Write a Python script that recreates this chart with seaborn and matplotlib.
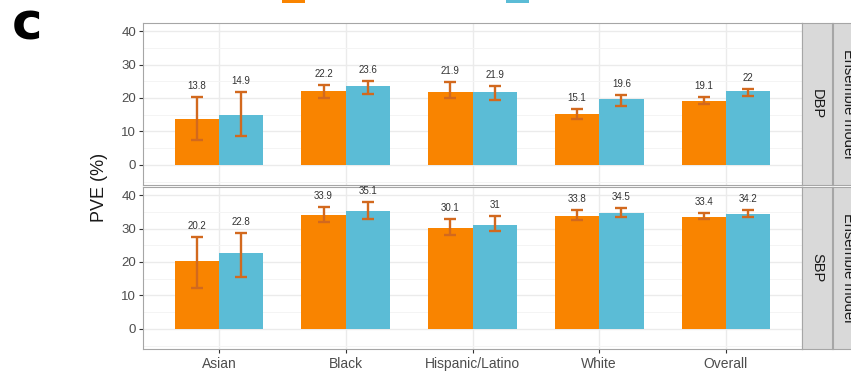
import matplotlib
matplotlib.use("Agg")
import matplotlib.pyplot as plt
import seaborn as sns
import pandas as pd
from matplotlib.patches import Patch

# ---- data -------------------------------------------------------------
groups = ["Asian", "Black", "Hispanic/Latino", "White", "Overall"]
models = ["Ancestry-specific", "Multi-ancestry"]
traits = ["DBP", "SBP"]

dbp_single = [13.8, 22.2, 21.9, 15.1, 19.1]
dbp_single_lo = [7.3, 20.0, 20.1, 13.8, 18.1]
dbp_single_hi = [20.2, 23.9, 24.8, 16.6, 20.4]
dbp_multi = [14.9, 23.6, 21.9, 19.6, 22.0]
dbp_multi_lo = [8.5, 21.1, 19.4, 17.7, 20.7]
dbp_multi_hi = [21.7, 25.1, 23.7, 21.0, 22.8]

sbp_single = [20.2, 33.9, 30.1, 33.8, 33.4]
sbp_single_lo = [12.1, 31.8, 28.1, 32.4, 32.7]
sbp_single_hi = [27.4, 36.5, 32.9, 35.5, 34.7]
sbp_multi = [22.8, 35.1, 31.0, 34.5, 34.2]
sbp_multi_lo = [15.4, 32.9, 29.3, 33.5, 33.5]
sbp_multi_hi = [28.6, 37.8, 33.7, 36.2, 35.4]

series = {
    ("DBP", models[0]): (dbp_single, dbp_single_lo, dbp_single_hi),
    ("DBP", models[1]): (dbp_multi, dbp_multi_lo, dbp_multi_hi),
    ("SBP", models[0]): (sbp_single, sbp_single_lo, sbp_single_hi),
    ("SBP", models[1]): (sbp_multi, sbp_multi_lo, sbp_multi_hi),
}

rows = []
for (trait, model), (vals, los, his) in series.items():
    for g, v, lo, hi in zip(groups, vals, los, his):
        rows.append(dict(trait=trait, group=g, model=model, pve=v, lo=lo, hi=hi))
df = pd.DataFrame(rows)

palette = {models[0]: "#F98400", models[1]: "#5BBCD6"}
err_color = "#D2691E"
border = "#A6A6A6"

# ---- style ------------------------------------------------------------
sns.set_theme(style="white")
plt.rcParams["font.family"] = ["Liberation Sans", "DejaVu Sans"]

W, H = 851, 374
fig = plt.figure(figsize=(W / 100, H / 100), dpi=100)

def fx(px):
    return px / W

def fy(px):
    return 1 - px / H

panel_left, panel_right = 143, 802
panel_rows = [(23, 185), (187, 349)]

for i, (trait, (top, bot)) in enumerate(zip(traits, panel_rows)):
    ax = fig.add_axes([fx(panel_left), fy(bot), fx(panel_right - panel_left),
                       (bot - top) / H])
    sub = df[df.trait == trait]
    sns.barplot(data=sub, x="group", y="pve", hue="model", order=groups,
                hue_order=models, palette=palette, width=0.7, errorbar=None,
                saturation=1, linewidth=0, legend=False, ax=ax)

    ax.set_xlim(-0.6, 4.6)
    ax.set_ylim(-6, 42.4)
    ax.set_yticks([0, 10, 20, 30, 40])
    ax.set_yticks([-5, 5, 15, 25, 35], minor=True)
    ax.grid(which="major", color="#EBEBEB", lw=1.0)
    ax.grid(which="minor", axis="y", color="#F4F4F4", lw=0.7)
    ax.set_axisbelow(True)

    for container, model in zip(ax.containers, models):
        for bar, g in zip(container, groups):
            r = sub[(sub.group == g) & (sub.model == model)].iloc[0]
            xc = bar.get_x() + bar.get_width() / 2
            ax.errorbar(xc, r.pve, yerr=[[r.pve - r.lo], [r.hi - r.pve]],
                        fmt="none", ecolor=err_color, elinewidth=1.7,
                        capsize=4.6, capthick=1.7, zorder=4)
            ax.text(xc, r.hi + 3.3, f"{r.pve:g}", ha="center", va="center",
                    fontsize=7, color="#333333", zorder=5)

    for s in ax.spines.values():
        s.set_visible(True)
        s.set_color(border)
        s.set_linewidth(0.8)

    ax.set_xlabel("")
    ax.set_ylabel("")
    ax.tick_params(axis="y", which="major", left=True, length=3, width=0.8,
                   color="#333333", labelcolor="#4D4D4D", labelsize=9.5, pad=2)
    ax.tick_params(axis="y", which="minor", left=False)
    if i == 0:
        ax.tick_params(axis="x", bottom=False, labelbottom=False)
    else:
        ax.tick_params(axis="x", bottom=True, length=3, width=0.8,
                       color="#333333", labelcolor="#4D4D4D", labelsize=10,
                       pad=3)

    # facet strips on the right
    for left, width, label in [(802, 30, trait), (833, 30, "Ensemble model")]:
        sax = fig.add_axes([fx(left), fy(bot), fx(width), (bot - top) / H])
        sax.set_facecolor("#D9D9D9")
        sax.set_xticks([])
        sax.set_yticks([])
        for s in sax.spines.values():
            s.set_color(border)
            s.set_linewidth(0.8)
        sax.text(0.5, 0.5, label, rotation=-90, ha="center", va="center",
                 fontsize=10.5, color="#1A1A1A", transform=sax.transAxes)

fig.text(fx(99), fy(187), "PVE (%)", rotation=90, ha="center", va="center",
         fontsize=13, color="#1A1A1A")

fig.text(fx(12), fy(40), "c", fontsize=37, fontweight="heavy",
         family="DejaVu Sans", ha="left", va="baseline", color="black")

# legend keys sitting at the top edge (tall keys keep the labels above)
for model, x0 in zip(models, [282, 506]):
    fig.legend(handles=[Patch(facecolor=palette[model], edgecolor="none")],
               labels=[model], loc="lower left",
               bbox_to_anchor=(fx(x0), fy(3)), bbox_transform=fig.transFigure,
               frameon=False, borderpad=0, borderaxespad=0,
               handlelength=1.65, handleheight=2.6, fontsize=10)

fig.savefig("out.png", dpi=100)
